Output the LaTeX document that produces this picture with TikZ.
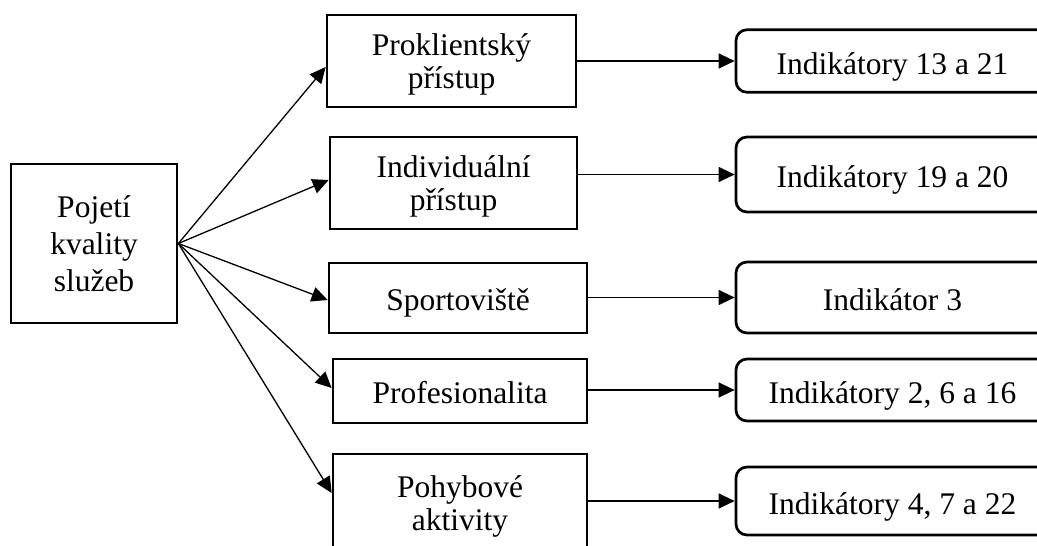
\documentclass[tikz,border=0pt]{standalone}
\usepackage{fontspec}
\setmainfont{Liberation Serif}
\usetikzlibrary{arrows.meta}
\begin{document}
\begin{tikzpicture}[x=1pt,y=-1pt,
  txt/.style={font=\fontsize{31.5}{33.5}\selectfont},
  box/.style={draw, line width=2.7pt, inner sep=0pt, align=center, txt},
  one/.style={text height=31pt, text depth=7pt},
  two/.style={text depth=-1.5pt},
  ibox/.style={box, text height=33pt, text depth=7pt, rounded corners=11pt,
               minimum width=313pt},
  conn/.style={line width=1.3pt, -{Triangle[length=16pt,width=15pt]}}
]
\clip (0,0) rectangle (1037,546);
\fill[white] (0,0) rectangle (1037,546);

% source
\node[box, minimum width=166pt, minimum height=159pt,
      font=\fontsize{31.5}{37}\selectfont, text depth=-2pt] (src) at (94,243.5)
      {Pojetí\\kvality\\služeb};

% aspects
\node[box, two, minimum width=249pt, minimum height=92pt] (m1) at (451.5,61) {Proklientský\\přístup};
\node[box, two, minimum width=247pt, minimum height=92pt] (m2) at (453.5,183) {Individuální\\přístup};
\node[box, one, minimum width=258pt, minimum height=70pt] (m3) at (458,298) {Sportoviště};
\node[box, one, minimum width=254pt, minimum height=64pt] (m4) at (460,391) {Profesionalita};
\node[box, two, minimum width=254pt, minimum height=98pt] (m5) at (460,503) {Pohybové\\aktivity};

% indicators
\node[ibox, minimum height=62.5pt] (r1) at (892.5,61) {Indikátory 13 a 21};
\node[ibox, minimum height=75pt] (r2) at (892.5,174.5) {Indikátory 19 a 20};
\node[ibox, minimum height=71pt] (r3) at (892.5,297.5) {Indikátor 3};
\node[ibox, minimum height=62pt] (r4) at (892.5,390) {Indikátory 2, 6 a 16};
\node[ibox, minimum height=68pt] (r5) at (892.5,501) {Indikátory 4, 7 a 22};

% fan-out from the source
\draw[conn] (src.east) -- ([yshift=-6pt]m1.west);
\draw[conn] (src.east) -- ([yshift=3pt]m2.west);
\draw[conn] (src.east) -- ([yshift=-2pt]m3.west);
\draw[conn] (src.east) -- ([yshift=3pt]m4.west);
\draw[conn] (src.east) -- ([yshift=10pt]m5.west);

% aspect to indicators
\draw[conn] (r1.west -| m1.east) -- (r1.west);
\draw[conn] (r2.west -| m2.east) -- (r2.west);
\draw[conn] (r3.west -| m3.east) -- (r3.west);
\draw[conn] (r4.west -| m4.east) -- (r4.west);
\draw[conn] (r5.west -| m5.east) -- (r5.west);
\end{tikzpicture}
\end{document}
